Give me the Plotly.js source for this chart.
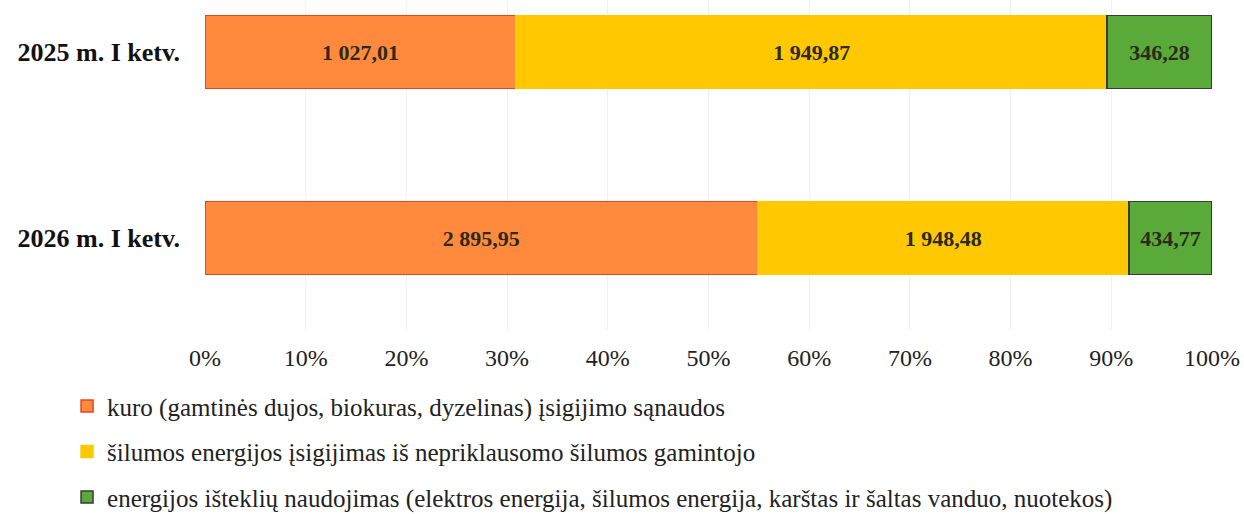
<!DOCTYPE html>
<html>
<head>
<meta charset="utf-8">
<script src="https://cdn.plot.ly/plotly-3.0.1.min.js"></script>
<style>
  body { margin: 0; background: #fff; }
  #chart { width: 1244px; height: 514px; }
</style>
</head>
<body>
<div id="chart"></div>
<script>
// periods (top to bottom)
const periods = ['2025 m. I ketv.', '2026 m. I ketv.'];

// series names
const seriesNames = [
    'kuro (gamtinės dujos, biokuras, dyzelinas) įsigijimo sąnaudos',
    'šilumos energijos įsigijimas iš nepriklausomo šilumos gamintojo',
    'energijos išteklių naudojimas (elektros energija, šilumos energija, karštas ir šaltas vanduo, nuotekos)'
];

// values per series, one per period
const fuelCosts = [1027.01, 2895.95];
const heatPurchase = [1949.87, 1948.48];
const resourceUse = [346.28, 434.77];

const fills = ['#ff8a3d', '#ffc800', '#5aaa3a'];
const edges = ['#e2481e', '#f0d000', '#3a3a3a'];

const serif = '"Liberation Serif", "Times New Roman", Times, serif';

let seriesValues = [fuelCosts, heatPurchase, resourceUse];

let data = seriesValues.map(function (vals, i) {
    return {
        type: 'bar',
        orientation: 'h',
        name: seriesNames[i],
        legendgroup: 'g' + i,
        x: vals,
        y: periods,
        customdata: vals,
        texttemplate: '%{customdata:,.2f}',
        textposition: 'inside',
        insidetextanchor: 'middle',
        textangle: 0,
        textfont: { family: serif, size: 22, color: '#2b2a1c', weight: 'bold' },
        marker: { color: fills[i], line: { color: edges[i], width: 1.5 } },
        hovertemplate: '%{y}: %{customdata:,.2f}<extra></extra>'
    };
});

let layout = {
    width: 1244,
    height: 514,
    barmode: 'stack',
    barnorm: 'percent',
    bargap: 0.608,
    separators: ', ',
    paper_bgcolor: '#ffffff',
    plot_bgcolor: '#ffffff',
    margin: { l: 205, r: 32, t: 0, b: 184, autoexpand: false },
    font: { family: serif, color: '#222222' },
    xaxis: {
        range: [0, 100],
        dtick: 10,
        ticksuffix: '%',
        showgrid: true,
        gridcolor: '#f0f0f0',
        zeroline: false,
        showline: false,
        ticks: '',
        ticklabelstandoff: 11,
        tickfont: { family: serif, size: 24, color: '#222222' }
    },
    yaxis: {
        type: 'category',
        range: [1.4946, -0.2796],
        showgrid: false,
        zeroline: false,
        showline: false,
        ticks: '',
        ticklabelstandoff: 24,
        tickfont: { family: serif, size: 26, color: '#111111', weight: 'bold' }
    },
    showlegend: true,
    legend: {
        orientation: 'v',
        x: -0.137,
        xanchor: 'left',
        y: -0.161,
        yanchor: 'top',
        traceorder: 'grouped',
        tracegroupgap: 10,
        font: { family: serif, size: 25, color: '#222222' },
        bgcolor: 'rgba(0,0,0,0)'
    }
};

Plotly.newPlot('chart', data, layout, { displayModeBar: false });
</script>
</body>
</html>
